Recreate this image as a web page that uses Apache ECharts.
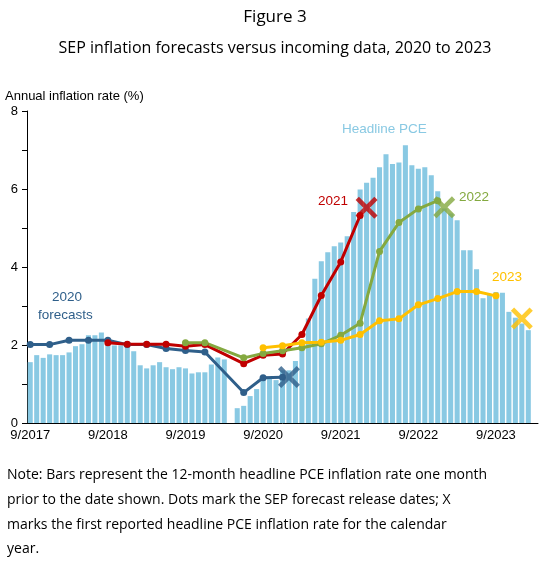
<!DOCTYPE html>
<html><head><meta charset="utf-8">
<script src="https://cdn.jsdelivr.net/npm/echarts@6/dist/echarts.min.js"></script>
<style>body{margin:0;background:#fff}#c{width:550px;height:562px}</style>
</head><body><div id="c"></div>
<script>
// months 9/2017 .. 3/2024
const categories = [];
for (let i = 0; i < 79; i++) { const m = (8 + i) % 12 + 1, y = 2017 + Math.floor((8 + i) / 12); categories.push(m + '/' + y); }
const pce = [1.56,1.74,1.67,1.76,1.74,1.74,1.81,1.97,2.02,2.25,2.25,2.32,
  2.08,1.99,1.99,1.95,1.84,1.48,1.40,1.48,1.56,1.43,1.38,1.43,
  1.40,1.27,1.30,1.30,1.50,1.68,1.63,null,0.38,0.44,0.69,0.87,
  1.12,1.17,1.10,1.35,1.35,1.59,2.10,2.68,3.70,4.15,4.38,4.53,
  4.63,4.79,5.41,5.99,6.16,6.29,6.56,6.89,6.64,6.68,7.12,6.61,
  6.52,6.56,6.35,5.94,5.50,5.37,5.20,4.43,4.43,3.94,3.20,3.29,
  3.36,3.34,2.85,2.70,2.55,2.38,null];
const f2020 = [[0,2.01],[3,2.01],[6,2.12],[9,2.12],[12,2.12],[15,2.01],[18,2.01],[21,1.91],[24,1.86],[27,1.82],[33,0.78],[36,1.16],[39,1.17]];
const f2021 = [[12,2.06],[15,2.02],[18,2.02],[21,2.02],[24,1.97],[27,2.01],[33,1.52],[36,1.74],[39,1.77],[42,2.27],[45,3.27],[48,4.13],[51,5.32]];
const f2022 = [[24,2.06],[27,2.06],[33,1.67],[36,1.78],[39,1.85],[42,1.93],[45,2.03],[48,2.25],[51,2.56],[54,4.40],[57,5.14],[60,5.49],[63,5.70]];
const f2023 = [[36,1.93],[39,1.98],[42,2.06],[45,2.07],[48,2.12],[51,2.27],[54,2.62],[57,2.67],[60,3.03],[63,3.19],[66,3.37],[69,3.37],[72,3.26]];
const actualX = [[40,1.18,'#2F5F8A'],[52,5.52,'#C00000'],[64,5.53,'#84A940'],[76,2.68,'#FFC000']];
const noteLines = ['Note: Bars represent the 12-month headline PCE inflation rate one month','prior to the date shown. Dots mark the SEP forecast release dates; X','marks the first reported headline PCE inflation rate for the calendar','year.'];

const F = 'Liberation Sans, Arial, sans-serif';
const OF = '"Open Sans", sans-serif';
const xPath = 'path://M0,3 L3,0 L10,7 L17,0 L20,3 L13,10 L20,17 L17,20 L10,13 L3,20 L0,17 L7,10 Z';
function line(data, color) {
  return {type:'line', data:data.map(d=>[categories[d[0]], d[1]]), symbol:'circle', symbolSize:7, showAllSymbol:true,
    lineStyle:{color, width:3}, itemStyle:{color}, z:3, animation:false};
}
const chart = echarts.init(document.getElementById('c'));
chart.setOption({
  animation:false,
  title:[{text:'Figure 3', left:'center', top:4, textStyle:{fontFamily:OF, fontWeight:'normal', fontSize:17, color:'#000'}},
         {text:'SEP inflation forecasts versus incoming data, 2020 to 2023', left:'center', top:35, textStyle:{fontFamily:OF, fontWeight:'normal', fontSize:16, color:'#000'}}],
  grid:{left:27, right:12, top:111, bottom:139},
  xAxis:{type:'category', data:categories, boundaryGap:true,
    axisLine:{lineStyle:{color:'#000'}},
    axisTick:{interval:(i)=>i%12===0, length:5, lineStyle:{color:'#000'}},
    axisLabel:{interval:(i)=>i%12===0, color:'#000', fontFamily:F, fontSize:13, margin:6}},
  yAxis:{type:'value', min:0, max:8, interval:2, name:'Annual inflation rate (%)', nameLocation:'end',
    nameGap:8, nameTextStyle:{align:'left', padding:[0,0,0,-22], color:'#000', fontFamily:F, fontSize:13},
    axisLine:{show:true, lineStyle:{color:'#000'}}, axisTick:{show:true, length:5, lineStyle:{color:'#000'}},
    minorTick:{show:true, splitNumber:2, length:5, lineStyle:{color:'#000'}},
    splitLine:{show:false}, axisLabel:{color:'#000', fontFamily:F, fontSize:13, margin:9}},
  series:[
    {type:'bar', data:pce, barCategoryGap:'22%', itemStyle:{color:'#89C9E3'}, z:1},
    line(f2020,'#2F5F8A'), line(f2021,'#C00000'), line(f2022,'#84A940'), line(f2023,'#FFC000'),
    {type:'scatter', data:actualX.map(d=>({value:[categories[d[0]], d[1]], itemStyle:{color:d[2]}})),
      symbol:xPath, symbolSize:22, z:5}
  ],
  graphic:[
    {type:'text', left:52, top:290, style:{text:'2020', fill:'#2F5F8A', font:'13.5px '+F}},
    {type:'text', left:38, top:308, style:{text:'forecasts', fill:'#2F5F8A', font:'13.5px '+F}},
    {type:'text', left:318, top:194, style:{text:'2021', fill:'#C00000', font:'13.5px '+F}},
    {type:'text', left:459, top:190, style:{text:'2022', fill:'#84A940', font:'13.5px '+F}},
    {type:'text', left:492, top:270, style:{text:'2023', fill:'#FFC000', font:'13.5px '+F}},
    {type:'text', left:342, top:122, style:{text:'Headline PCE', fill:'#89C9E3', font:'13.5px '+F}},
    {type:'text', left:7, top:463, style:{text:noteLines.join('\n'), fill:'#000', font:'14px '+OF, lineHeight:24.7}}
  ]
});
</script></body></html>
